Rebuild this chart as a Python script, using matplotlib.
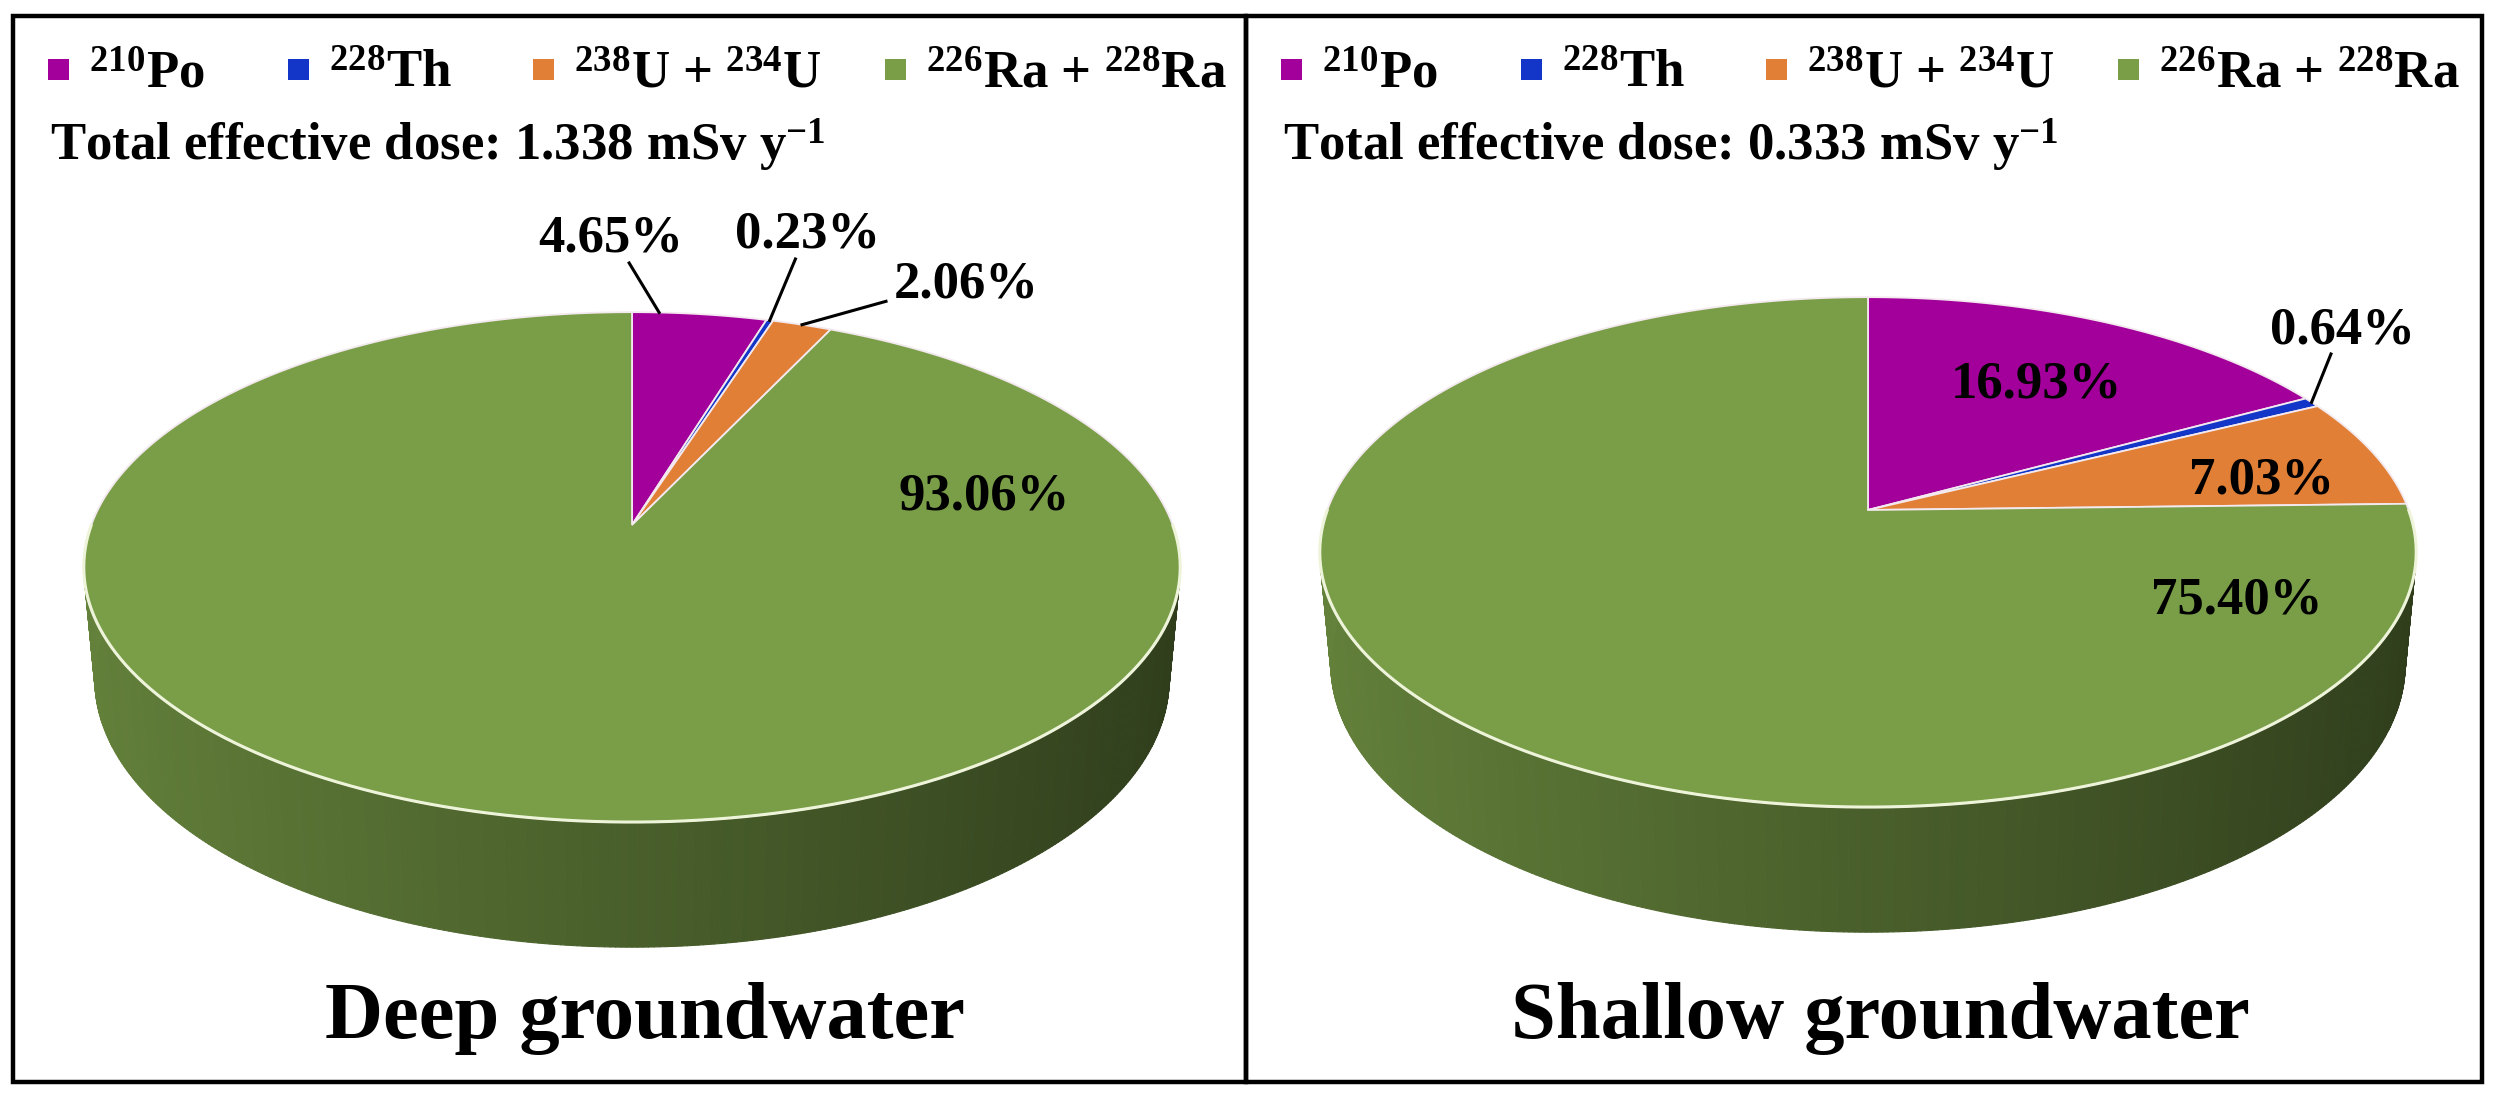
import numpy as np
import matplotlib
matplotlib.use("Agg")
import matplotlib.pyplot as plt
from matplotlib.patches import Polygon, Rectangle
from matplotlib.collections import PolyCollection
from matplotlib.colors import to_rgb

plt.rcParams['font.family'] = ['Liberation Serif', 'DejaVu Serif']
plt.rcParams['font.weight'] = 'bold'
plt.rcParams['mathtext.fontset'] = 'custom'
plt.rcParams['mathtext.rm'] = 'Liberation Serif:bold'
plt.rcParams['mathtext.it'] = 'Liberation Serif:bold:italic'
plt.rcParams['mathtext.bf'] = 'Liberation Serif:bold'

# ---- data ----
sources = [r'$^{210}$Po', r'$^{228}$Th', r'$^{238}$U + $^{234}$U', r'$^{226}$Ra + $^{228}$Ra']
colors = ['#A3009B', '#1336C8', '#E07F35', '#7A9E48']
deep_share = [4.65, 0.23, 2.06, 93.06]
shallow_share = [16.93, 0.64, 7.03, 75.40]
groups = ['Deep groundwater', 'Shallow groundwater']
total_dose = [1.338, 0.333]

# ---- 3D pie look (Excel style, with perspective) ----
TILT = np.radians(27.3)
DIST = 5.38
DEPTH = 0.235
SCALE = 540.7
FS = 38


def project(theta, level, cx, cy):
    t = np.radians(theta)
    x, z, y = np.cos(t), np.sin(t), level
    u = y * np.cos(TILT) + z * np.sin(TILT)
    w = -y * np.sin(TILT) + z * np.cos(TILT)
    f = 1.0 / (1.0 + w / DIST)
    return cx + x * f * SCALE, cy - u * f * SCALE


def draw_pie(ax, shares, cx, cy, label_pos, leader, attach):
    total = sum(shares)
    bounds = 90 - 360 * np.concatenate([[0], np.cumsum(shares)]) / total

    # side wall, shaded from left (light) to right (dark)
    quads, qcols = [], []
    for i in range(len(shares)):
        a0, a1 = bounds[i], bounds[i + 1]
        n = max(2, int(abs(a0 - a1) / 0.5))
        ts = np.linspace(a0, a1, n + 1)
        base = np.array(to_rgb(colors[i]))
        for t0, t1 in zip(ts[:-1], ts[1:]):
            tm = ((t0 + t1) / 2) % 360
            if not (180 <= tm <= 360):
                continue
            p0 = project(t0, 0, cx, cy)
            p1 = project(t1, 0, cx, cy)
            q1 = project(t1, -DEPTH, cx, cy)
            q0 = project(t0, -DEPTH, cx, cy)
            quads.append([p0, p1, q1, q0])
            shade = 0.60 - 0.22 * np.cos(np.radians(tm))
            qcols.append(np.clip(base * shade, 0, 1))
    ax.add_collection(PolyCollection(quads, facecolors=qcols, edgecolors=qcols,
                                     linewidths=0.8, zorder=1))

    # top faces
    for i in range(len(shares)):
        a0, a1 = bounds[i], bounds[i + 1]
        ts = np.linspace(a0, a1, max(4, int(abs(a0 - a1) * 2)))
        xs, ys = project(ts, 0, cx, cy)
        pts = np.column_stack([np.r_[cx, xs], np.r_[cy, ys]])
        ax.add_patch(Polygon(pts, closed=True, facecolor=colors[i],
                             edgecolor='#F3E9EF', linewidth=1.3, zorder=2))

    # pale highlight on the front rim
    ts = np.linspace(180, 360, 400)
    xs, ys = project(ts, 0, cx, cy)
    ax.plot(xs, ys, color='#EEF4DA', lw=2.2, zorder=3, solid_capstyle='round')

    # value labels and leader lines
    for i, v in enumerate(shares):
        lx, lb = label_pos[i]
        ax.text(lx, lb, f'{v:.2f}%', fontsize=FS, fontweight='bold',
                ha='center', va='baseline', zorder=5)
        if leader[i]:
            ly = lb - 19
            a = bounds[i] + attach[i] * (bounds[i + 1] - bounds[i])
            tx, ty = project(a, 0, cx, cy)
            dx, dy = tx - lx, ty - ly
            hw, hh = 80, 30
            s = min(hw / abs(dx) if dx else 1e9, hh / abs(dy) if dy else 1e9)
            ax.plot([lx + dx * s, tx], [ly + dy * s, ty], color='black',
                    lw=2.2, zorder=4)


fig = plt.figure(figsize=(24.95, 10.95), dpi=100)
ax = fig.add_axes([0, 0, 1, 1])
ax.set_xlim(0, 2495)
ax.set_ylim(1095, 0)
ax.axis('off')

panel_left = [13, 1246]
panel_right = [1246, 2482]
pie_center = [(632, 525), (1868, 510)]
title_x = [645, 1880]
# label anchors: (x centre, baseline)
label_pos = [
    [(611, 252), (808, 248), (966, 298), (984, 510)],
    [(2036, 397), (2343, 343), (2262, 493), (2237, 613)],
]
leaders = [[True, True, True, False], [False, True, False, False]]
attach = [[0.2, 0.5, 0.5, 0.5], [0.5, 0.5, 0.5, 0.5]]
legend_x = [48, 288, 533, 885]
SQ = 21

for k, shares in enumerate([deep_share, shallow_share]):
    x0, x1 = panel_left[k], panel_right[k]
    ax.add_patch(Rectangle((x0, 16), x1 - x0, 1066, fill=False,
                           edgecolor='black', linewidth=3.2, zorder=6))
    off = x0 - 13
    for i, lab in enumerate(sources):
        mx = legend_x[i] + off
        ax.add_patch(Rectangle((mx, 59), SQ, SQ, facecolor=colors[i],
                               edgecolor='none', zorder=5))
        ax.text(mx + SQ + 20, 88, lab, fontsize=FS, fontweight='bold',
                ha='left', va='baseline')
    ax.text(50 + off, 160, f'Total effective dose: {total_dose[k]:.3f} mSv y$^{{-1}}$',
            fontsize=FS, fontweight='bold', ha='left', va='baseline')
    cx, cy = pie_center[k]
    draw_pie(ax, shares, cx, cy, label_pos[k], leaders[k], attach[k])
    ax.text(title_x[k], 1038, groups[k], fontsize=58, fontweight='bold',
            ha='center', va='baseline')

fig.savefig('out.png', dpi=100, facecolor='white')
